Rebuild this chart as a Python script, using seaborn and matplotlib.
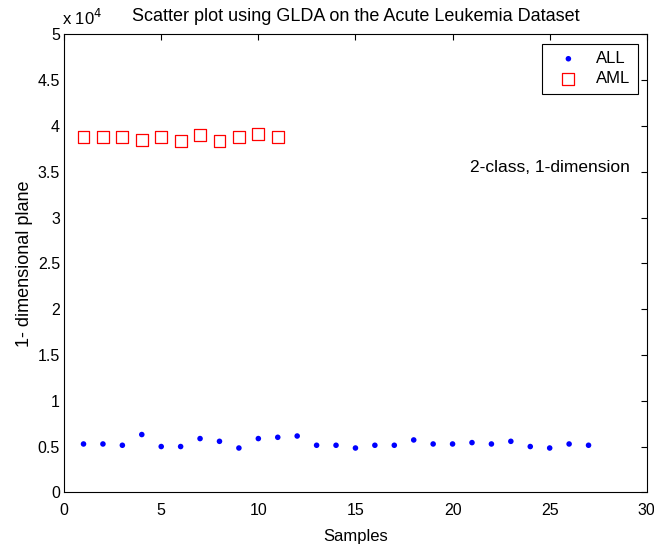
import numpy as np
import pandas as pd
import matplotlib
matplotlib.use("Agg")
import matplotlib.pyplot as plt
import seaborn as sns
from matplotlib.ticker import FuncFormatter, MultipleLocator

all_samples = list(range(1, 28))
all_values = [5280, 5280, 5140, 6310, 5000, 5000, 5870, 5570, 4840, 5870,
              6010, 6150, 5140, 5140, 4840, 5140, 5140, 5720, 5280, 5280,
              5430, 5280, 5570, 5000, 4840, 5280, 5140]
aml_samples = list(range(1, 12))
aml_values = [38800, 38800, 38800, 38500, 38800, 38400, 39000, 38400, 38800, 39100, 38800]

sns.set_style("white")
plt.rcParams['font.family'] = ['Liberation Sans', 'DejaVu Sans']
plt.rcParams['text.color'] = 'black'
plt.rcParams['axes.labelcolor'] = 'black'

df_all = pd.DataFrame({"Samples": all_samples, "value": all_values})
df_aml = pd.DataFrame({"Samples": aml_samples, "value": aml_values})

fig = plt.figure(figsize=(6.54, 5.46), dpi=100)
ax = fig.add_axes([0.098, 0.0983, 0.891, 0.8386])

sns.scatterplot(data=df_all, x="Samples", y="value", ax=ax, marker="o", s=16,
                color="#0000ff", edgecolor="none", label="ALL")
sns.scatterplot(data=df_aml, x="Samples", y="value", ax=ax, marker="s", s=72,
                facecolor="none", edgecolor="#ff0000", linewidth=0.9, label="AML")

ax.set_xlim(0, 30)
ax.set_ylim(0, 50000)
ax.xaxis.set_major_locator(MultipleLocator(5))
ax.yaxis.set_major_locator(MultipleLocator(5000))
ax.yaxis.set_major_formatter(FuncFormatter(lambda v, p: f"{v/1e4:g}"))
ax.tick_params(direction="in", top=True, right=True, length=4, width=0.8,
               labelsize=11.5, colors="black")
ax.tick_params(axis="x", pad=7.5)
ax.tick_params(axis="y", pad=3)
for sp in ax.spines.values():
    sp.set_color("black")
    sp.set_linewidth(0.8)

ax.set_xlabel("Samples", fontsize=12, labelpad=8)
ax.set_ylabel("1- dimensional plane", fontsize=13, labelpad=3)
ax.set_title("Scatter plot using GLDA on the Acute Leukemia Dataset", fontsize=13, pad=10)
ax.text(-0.003, 1.015, r"x 10$^4$", transform=ax.transAxes, fontsize=12, ha="left", va="bottom")
ax.text(0.833, 0.71, "2-class, 1-dimension", transform=ax.transAxes, fontsize=12.5,
        ha="center", va="center")

leg = ax.legend(loc="upper right", fancybox=False, framealpha=1, edgecolor="black",
                fontsize=12, borderaxespad=0.55, handletextpad=0.5, borderpad=0.45,
                labelspacing=0.3, handlelength=2.3)
leg.get_frame().set_linewidth(0.8)

fig.savefig("out.png", dpi=100)
